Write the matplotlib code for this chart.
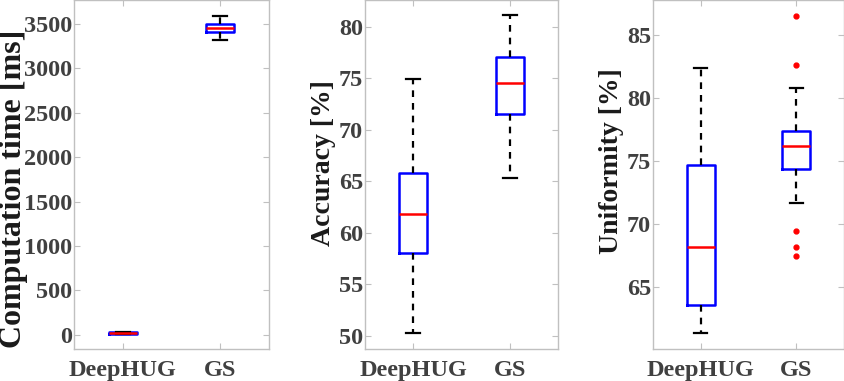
import matplotlib
matplotlib.use("Agg")
import matplotlib.pyplot as plt

# categories
groups = ["DeepHUG", "GS"]

# box statistics: (whislo, q1, med, q3, whishi)
time_ms = [(8, 12, 19, 26, 32), (3320, 3407, 3452, 3505, 3590)]
time_fliers = [[], []]

accuracy = [(50.3, 58.1, 61.8, 65.8, 74.95), (65.3, 71.55, 74.5, 77.1, 81.1)]
accuracy_fliers = [[], []]

uniformity = [(61.36, 63.63, 68.23, 74.67, 82.36), (71.66, 74.38, 76.23, 77.39, 80.78)]
uniformity_fliers = [[], [86.53, 82.6, 69.44, 68.18, 67.46]]

ylabels = ["Computation time [ms]", "Accuracy [%]", "Uniformity [%]"]
ylims = [(-160, 3770), (48.74, 82.6), (60.11, 87.77)]
yticks = [range(0, 3501, 500), range(50, 81, 5), range(65, 86, 5)]

plt.rcParams['font.family'] = ['Liberation Serif', 'DejaVu Serif']
plt.rcParams['font.weight'] = 'bold'

fig = plt.figure(figsize=(8.45, 3.81), dpi=100)
rects = [[74 / 845, 32 / 381, 195 / 845, 349 / 381],
         [365 / 845, 32 / 381, 193 / 845, 349 / 381],
         [653 / 845, 32 / 381, 191 / 845, 349 / 381]]
# label centre (axes fraction) and size, as placed in the reference
label_pos = [(-0.31, 0.46), (-0.215, 0.532), (-0.215, 0.537)]
label_size = [23, 20, 20]

data = [(time_ms, time_fliers), (accuracy, accuracy_fliers), (uniformity, uniformity_fliers)]
tick_col = '#404040'
edge_col = '#c0c0c0'

for i, (stats_vals, fliers) in enumerate(data):
    ax = fig.add_axes(rects[i])
    stats = []
    for name, s, f in zip(groups, stats_vals, fliers):
        stats.append({'label': name, 'whislo': s[0], 'q1': s[1], 'med': s[2],
                      'q3': s[3], 'whishi': s[4], 'fliers': f})
    ax.bxp(stats, positions=[1, 2], widths=0.29, capwidths=0.14,
           boxprops=dict(color='blue', linewidth=1.8),
           medianprops=dict(color='red', linewidth=1.8),
           whiskerprops=dict(color='black', linewidth=1.6, linestyle=(0, (3, 2.7))),
           capprops=dict(color='black', linewidth=1.6),
           flierprops=dict(marker='o', markersize=3.5, markerfacecolor='red',
                           markeredgecolor='red', linestyle='none'))
    ax.set_xlim(0.5, 2.5)
    ax.set_ylim(*ylims[i])
    ax.set_yticks(list(yticks[i]))
    ax.set_xticks([1, 2])
    ax.set_xticklabels(groups)
    ax.tick_params(direction='in', top=True, right=True, length=4, width=0.8,
                   color=edge_col, labelcolor=tick_col, labelsize=17.5)
    ax.tick_params(axis='y', pad=1.5)
    ax.tick_params(axis='x', pad=8)
    for lab in ax.get_xticklabels() + ax.get_yticklabels():
        lab.set_fontweight('bold')
    for sp in ax.spines.values():
        sp.set_color(edge_col)
        sp.set_linewidth(1.0)
    lab = ax.set_ylabel(ylabels[i], fontsize=label_size[i], fontweight='bold', color='#1a1a1a')
    lab.set_verticalalignment('center')
    ax.yaxis.set_label_coords(*label_pos[i])

fig.savefig("out.png", dpi=100)
